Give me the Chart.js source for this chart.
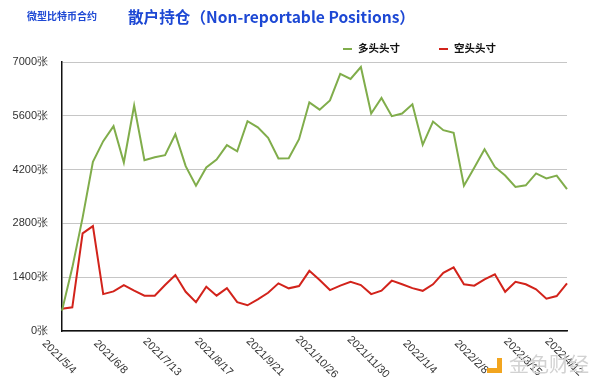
<!DOCTYPE html>
<html>
<head>
<meta charset="utf-8">
<script src="https://cdn.jsdelivr.net/npm/chart.js@4/dist/chart.umd.min.js"></script>
<style>
  html, body { margin: 0; padding: 0; background: #fff; }
  #wrap { position: relative; width: 600px; height: 389px; overflow: hidden; font-family: "Noto Sans CJK SC", "Liberation Sans", sans-serif; }
  #chart { position: absolute; left: 0; top: 0; }
  .t { position: absolute; white-space: nowrap; line-height: 1; }
  #sub { left: 27px; top: 11px; font-size: 10px; font-weight: 700; color: #1d48d4; }
  #title { left: 128px; top: 9px; font-size: 15.6px; font-weight: 700; color: #1d48d4; }
  .lg-mark { position: absolute; width: 9px; height: 2px; }
  .lg-text { position: absolute; font-size: 10.5px; font-weight: 700; color: #111; white-space: nowrap; line-height: 1; }
  #wm { position: absolute; left: 509px; top: 354px; font-size: 20px; color: #d2d2d2; line-height: 1; font-family: "Noto Sans CJK SC", sans-serif; }
  #wm-icon { position: absolute; left: 487px; top: 358px; width: 10px; height: 10px; border-right: 5px solid #f2a51f; border-bottom: 5px solid #f2a51f; }
</style>
</head>
<body>
<div id="wrap">
  <canvas id="chart" width="600" height="389"></canvas>
  <div class="t" id="sub">微型比特币合约</div>
  <div class="t" id="title">散户持仓（Non-reportable Positions）</div>
  <div class="lg-mark" style="left:343px;top:48px;background:#80ad4b"></div>
  <div class="lg-text" style="left:358px;top:43px">多头头寸</div>
  <div class="lg-mark" style="left:439px;top:48px;background:#d2231b"></div>
  <div class="lg-text" style="left:454px;top:43px">空头头寸</div>
  <div id="wm-icon"></div>
  <div id="wm">金色财经</div>
</div>
<script>
// weekly report dates
const dates = [
  '2021/5/4', '2021/5/11', '2021/5/18', '2021/5/25', '2021/6/1', '2021/6/8', '2021/6/15', '2021/6/22', '2021/6/29', '2021/7/6',
  '2021/7/13', '2021/7/20', '2021/7/27', '2021/8/3', '2021/8/10', '2021/8/17', '2021/8/24', '2021/8/31', '2021/9/7', '2021/9/14',
  '2021/9/21', '2021/9/28', '2021/10/5', '2021/10/12', '2021/10/19', '2021/10/26', '2021/11/2', '2021/11/9', '2021/11/16', '2021/11/23',
  '2021/11/30', '2021/12/7', '2021/12/14', '2021/12/21', '2021/12/28', '2022/1/4', '2022/1/11', '2022/1/18', '2022/1/25', '2022/2/1',
  '2022/2/8', '2022/2/15', '2022/2/22', '2022/3/1', '2022/3/8', '2022/3/15', '2022/3/22', '2022/3/29', '2022/4/5', '2022/4/12'
];
// which dates get a label on the axis
const shownLabels = [0, 5, 10, 15, 20, 25, 30, 35, 40, 45, 49];

const longPos = [
  530, 1650, 2950, 4400, 4940, 5330, 4385, 5865, 4445, 4520,
  4575, 5120, 4290, 3780, 4255, 4460, 4835, 4675, 5460, 5300,
  5025, 4490, 4495, 4990, 5950, 5760, 6000, 6690, 6560, 6870,
  5660, 6065, 5590, 5660, 5900, 4845, 5450, 5225, 5155, 3780,
  4245, 4730, 4270, 4045, 3750, 3790, 4100, 3970, 4045, 3690
];
const shortPos = [
  580, 615, 2540, 2730, 960, 1030, 1195, 1050, 920, 920,
  1195, 1455, 1020, 750, 1150, 920, 1115, 750, 670, 825,
  995, 1240, 1110, 1170, 1565, 1325, 1065, 1180, 1280, 1195,
  960, 1050, 1310, 1215, 1115, 1045, 1215, 1515, 1655, 1215,
  1180, 1345, 1475, 1020, 1280, 1215, 1085, 840, 910, 1240
];
const yTicks = [0, 1400, 2800, 4200, 5600, 7000];
const yUnit = '张';

// rotated date labels (going down-right), drawn from the x scale
const dateLabels = {
  id: 'dateLabels',
  afterDraw(chart) {
    const ctx = chart.ctx;
    const x = chart.scales.x;
    ctx.save();
    ctx.font = '11px "Liberation Sans", Arial, sans-serif';
    ctx.fillStyle = '#333';
    ctx.textAlign = 'center';
    ctx.textBaseline = 'middle';
    shownLabels.forEach(i => {
      const px = x.getPixelForValue(i);
      ctx.save();
      ctx.translate(px - 3, chart.chartArea.bottom + 26);
      ctx.rotate(Math.PI / 4);
      ctx.fillText(dates[i], 0, 0);
      ctx.restore();
    });
    ctx.restore();
  }
};

const ctx = document.getElementById('chart').getContext('2d');
new Chart(ctx, {
  type: 'line',
  data: {
    labels: dates,
    datasets: [
      { label: '多头头寸', data: longPos, borderColor: '#80ad4b', borderWidth: 2, pointRadius: 0, tension: 0, fill: false },
      { label: '空头头寸', data: shortPos, borderColor: '#d2231b', borderWidth: 2, pointRadius: 0, tension: 0, fill: false }
    ]
  },
  options: {
    responsive: false,
    animation: false,
    devicePixelRatio: 1,
    layout: { padding: { top: 62, right: 33, left: 0, bottom: 0 } },
    plugins: {
      legend: { display: false },
      title: { display: false },
      tooltip: { enabled: false }
    },
    scales: {
      x: {
        offset: false,
        grid: { display: false },
        border: { display: true, color: '#111', width: 1.5 },
        ticks: { display: false },
        afterFit(s) { s.height = 58; }
      },
      y: {
        min: yTicks[0],
        max: yTicks[yTicks.length - 1],
        afterBuildTicks(s) { s.ticks = yTicks.map(v => ({ value: v })); },
        grid: { color: '#c6c6c6', lineWidth: 1, drawTicks: false },
        border: { display: true, color: '#111', width: 1.5 },
        ticks: {
          padding: 14,
          color: '#333',
          font: { family: '"Liberation Sans", Arial, sans-serif', size: 11 },
          callback: v => v + yUnit
        },
        afterFit(s) { s.width = 62; }
      }
    }
  },
  plugins: [dateLabels]
});
</script>
</body>
</html>
